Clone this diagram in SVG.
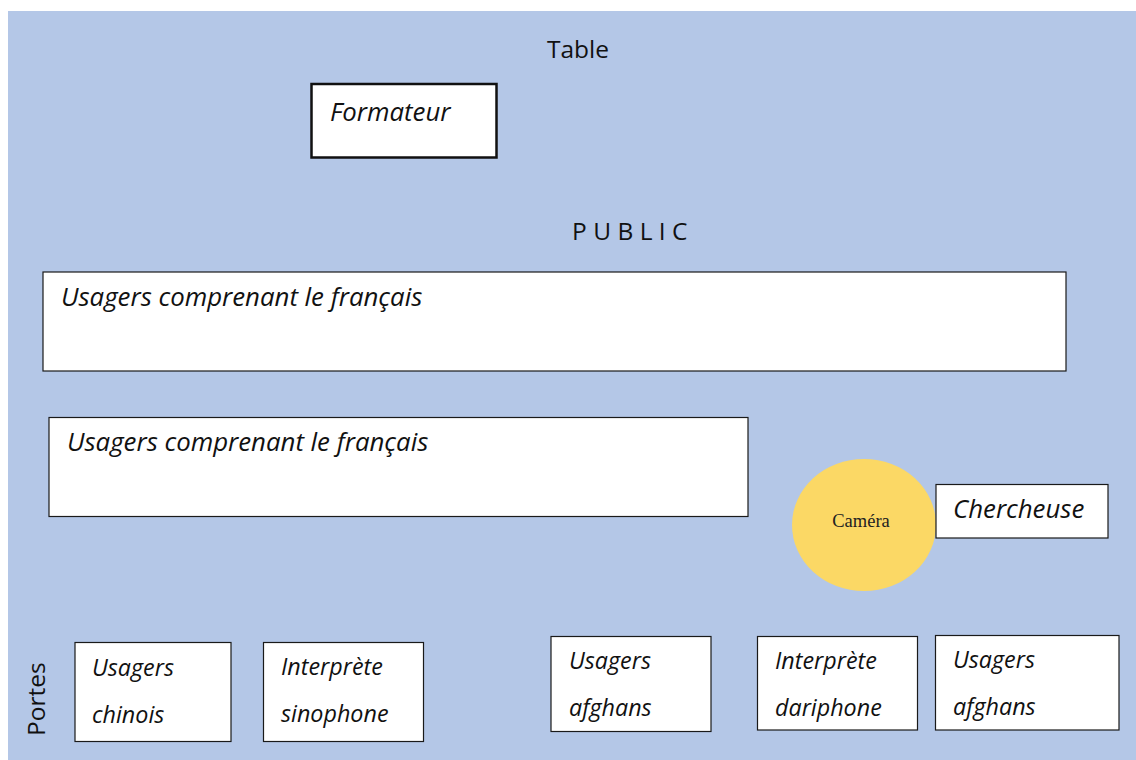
<svg xmlns="http://www.w3.org/2000/svg" width="1136" height="760" viewBox="0 0 1136 760">
<style>
.box{fill:#fff;stroke:#1a1a1a;stroke-width:1.2}
.t{font-family:"Open Sans","Noto Sans",sans-serif;font-style:italic;font-size:25.8px;fill:#111}
.s{font-size:23.3px}
.n{font-family:"Open Sans","Noto Sans",sans-serif;font-size:24.5px;fill:#111}
</style>
<rect x="8" y="11" width="1128" height="749" fill="#b4c7e7"/>
<text class="n" x="578" y="58" text-anchor="middle">Table</text>
<g id="formateur">
<rect x="311.5" y="84" width="185" height="73.5" fill="#fff" stroke="#111" stroke-width="2.5"/>
<text class="t" x="330" y="121">Formateur</text>
</g>
<text class="n" x="572" y="240" letter-spacing="6.4">PUBLIC</text>
<g id="usagers-fr-1">
<rect class="box" x="43" y="272" width="1023" height="99"/>
<text class="t" x="61" y="306">Usagers comprenant le français</text>
</g>
<g id="usagers-fr-2">
<rect class="box" x="49" y="417.5" width="699" height="99"/>
<text class="t" x="67" y="451">Usagers comprenant le français</text>
</g>
<g id="camera">
<ellipse cx="864" cy="525" rx="72" ry="66" fill="#fbd865"/>
<text x="861" y="527" text-anchor="middle" font-family="'Liberation Serif',serif" font-size="18.5" fill="#222">Caméra</text>
</g>
<g id="chercheuse">
<rect class="box" x="936" y="484.5" width="172" height="53.5"/>
<text class="t" x="953" y="518">Chercheuse</text>
</g>
<text class="n" font-size="25.5" transform="translate(45,736) rotate(-90)">Portes</text>
<g id="usagers-chinois">
<rect class="box" x="75" y="642.5" width="156" height="99"/>
<text class="t s" x="92" y="676">Usagers</text>
<text class="t s" x="92" y="723">chinois</text>
</g>
<g id="interprete-sinophone">
<rect class="box" x="263.5" y="642.5" width="160" height="99"/>
<text class="t s" x="281" y="675">Interprète</text>
<text class="t s" x="281" y="722">sinophone</text>
</g>
<g id="usagers-afghans-1">
<rect class="box" x="551" y="636.5" width="160" height="95"/>
<text class="t s" x="569" y="669">Usagers</text>
<text class="t s" x="569" y="716">afghans</text>
</g>
<g id="interprete-dariphone">
<rect class="box" x="757.5" y="636.5" width="160" height="93.5"/>
<text class="t s" x="775" y="669">Interprète</text>
<text class="t s" x="775" y="716">dariphone</text>
</g>
<g id="usagers-afghans-2">
<rect class="box" x="935.5" y="635.5" width="183.5" height="94.5"/>
<text class="t s" x="953" y="668">Usagers</text>
<text class="t s" x="953" y="715">afghans</text>
</g>
<g id="connectors"></g>
</svg>
